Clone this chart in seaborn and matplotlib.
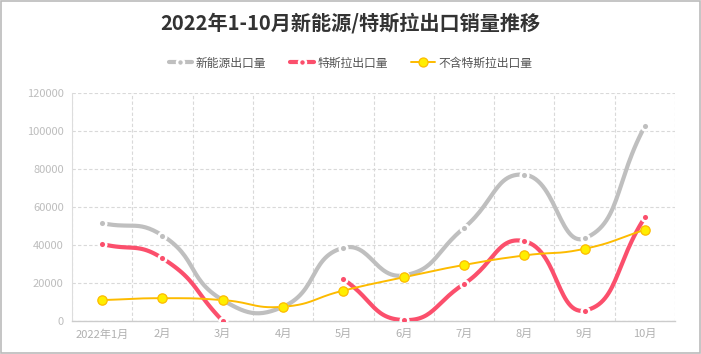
import numpy as np
import pandas as pd
import matplotlib.pyplot as plt
import seaborn as sns
from matplotlib.lines import Line2D
from matplotlib.patches import Rectangle

# 数据
months = ['2022年1月', '2月', '3月', '4月', '5月', '6月', '7月', '8月', '9月', '10月']
nev_export = [51500, 45000, 11000, 7500, 38500, 24000, 49000, 77000, 43500, 102500]
tesla_export = [40500, 33000, 0, np.nan, 22000, 500, 19500, 42000, 5500, 54500]
non_tesla_export = [11000, 12000, 11000, 7500, 16000, 23000, 29500, 34500, 38000, 48000]

GRAY = '#bfbfbf'
RED = '#fb4f6c'
GOLD = '#fdbb00'
YELLOW = '#ffee00'

sns.set_theme(style='white')
plt.rcParams['font.family'] = ['Noto Sans CJK SC', 'DejaVu Sans']

fig = plt.figure(figsize=(7.01, 3.54), dpi=100)
ax = fig.add_axes([72 / 701, 33 / 354, 603 / 701, 228 / 354])
ax.set_xlim(-0.5, 9.5)
ax.set_ylim(0, 120000)

# 平滑曲线 (类似 echarts smooth, 像素空间计算控制点)
px_x = 603 / 10
px_y = 228 / 120000


def smooth_segment(xs, ys, smooth=0.5, n=30):
    P = np.column_stack([np.asarray(xs) * px_x, np.asarray(ys) * px_y])
    cps_in, cps_out = [], []
    for i in range(len(P)):
        prev = P[i - 1] if i > 0 else P[i]
        nxt = P[i + 1] if i < len(P) - 1 else P[i]
        v = nxt - prev
        lp = np.hypot(*(P[i] - prev))
        ln = np.hypot(*(nxt - P[i]))
        ratio = ln / (lp + ln) if lp + ln > 0 else 0.5
        cps_in.append(P[i] - v * smooth * (1 - ratio))
        cps_out.append(P[i] + v * smooth * ratio)
    pts = []
    t = np.linspace(0, 1, n)[:, None]
    for i in range(len(P) - 1):
        p0, p1, p2, p3 = P[i], cps_out[i], cps_in[i + 1], P[i + 1]
        seg = ((1 - t) ** 3) * p0 + 3 * ((1 - t) ** 2) * t * p1 + 3 * (1 - t) * t ** 2 * p2 + t ** 3 * p3
        pts.append(seg if i == 0 else seg[1:])
    pts = np.vstack(pts)
    return pts[:, 0] / px_x, pts[:, 1] / px_y


def draw_series(values, color, lw, zorder):
    vals = np.asarray(values, dtype=float)
    idx = np.arange(len(vals))
    ok = ~np.isnan(vals)
    # 按空值分段
    groups, cur = [], []
    for i in idx:
        if ok[i]:
            cur.append(i)
        elif cur:
            groups.append(cur)
            cur = []
    if cur:
        groups.append(cur)
    for g in groups:
        if len(g) < 2:
            continue
        sx, sy = smooth_segment(idx[g], vals[g])
        df = pd.DataFrame({'x': sx, 'y': sy})
        sns.lineplot(data=df, x='x', y='y', sort=False, estimator=None, color=color,
                     lw=lw, ax=ax, zorder=zorder, solid_capstyle='butt')


draw_series(nev_export, GRAY, 3, 3)
draw_series(tesla_export, RED, 3, 4)
draw_series(non_tesla_export, GOLD, 1.4, 5)

x = np.arange(len(months))
ax.scatter(x, nev_export, s=30, color=GRAY, edgecolor='white', linewidth=1.8, zorder=6)
ax.scatter(x, tesla_export, s=30, color=RED, edgecolor='white', linewidth=1.8, zorder=7)
ax.scatter(x, non_tesla_export, s=45, color=YELLOW, edgecolor=GOLD, linewidth=0.9, zorder=8)

# 坐标轴与网格
ax.set_xticks(x)
ax.set_xticklabels(months, fontsize=8, color='#b0b0b0')
ax.set_xticks(np.arange(-0.5, 10, 1), minor=True)
ax.set_yticks(np.arange(0, 120001, 20000))
ax.set_yticklabels([str(v) for v in range(0, 120001, 20000)], fontsize=8, color='#bdbdbd')
ax.tick_params(axis='both', which='both', length=0, pad=6)
ax.grid(True, axis='y', which='major', color='#d9d9d9', linestyle=(0, (3, 2)), linewidth=0.8)
ax.grid(True, axis='x', which='minor', color='#d9d9d9', linestyle=(0, (3, 2)), linewidth=0.8)
ax.grid(False, axis='x', which='major')
ax.set_xlabel('')
ax.set_ylabel('')
for s in ['top', 'right']:
    ax.spines[s].set_visible(False)
ax.spines['left'].set_color('#dddddd')
ax.spines['left'].set_linewidth(0.8)
ax.spines['bottom'].set_color('#cccccc')
ax.spines['bottom'].set_linewidth(1)

# 标题与图例
fig.text(0.5, 1 - 23 / 354, '2022年1-10月新能源/特斯拉出口销量推移', ha='center', va='center',
         fontsize=14.5, fontweight='bold', color='#333333')
handles = [
    Line2D([], [], color=GRAY, lw=3, marker='o', markersize=5, markerfacecolor=GRAY,
           markeredgecolor='white', markeredgewidth=1.8),
    Line2D([], [], color=RED, lw=3, marker='o', markersize=5, markerfacecolor=RED,
           markeredgecolor='white', markeredgewidth=1.8),
    Line2D([], [], color=GOLD, lw=1.4, marker='o', markersize=6.5, markerfacecolor=YELLOW,
           markeredgecolor=GOLD, markeredgewidth=0.9),
]
fig.legend(handles, ['新能源出口量', '特斯拉出口量', '不含特斯拉出口量'], loc='center',
           bbox_to_anchor=(0.5, 1 - 63 / 354), ncol=3, frameon=False, fontsize=8.5,
           handlelength=2.0, handletextpad=0.3, columnspacing=2.0, labelcolor='#555555')

fig.add_artist(Rectangle((0.001, 0.002), 0.997, 0.995, transform=fig.transFigure,
                         fill=False, edgecolor='#bbbbbb', linewidth=1.2))

fig.savefig('out.png', dpi=100)
